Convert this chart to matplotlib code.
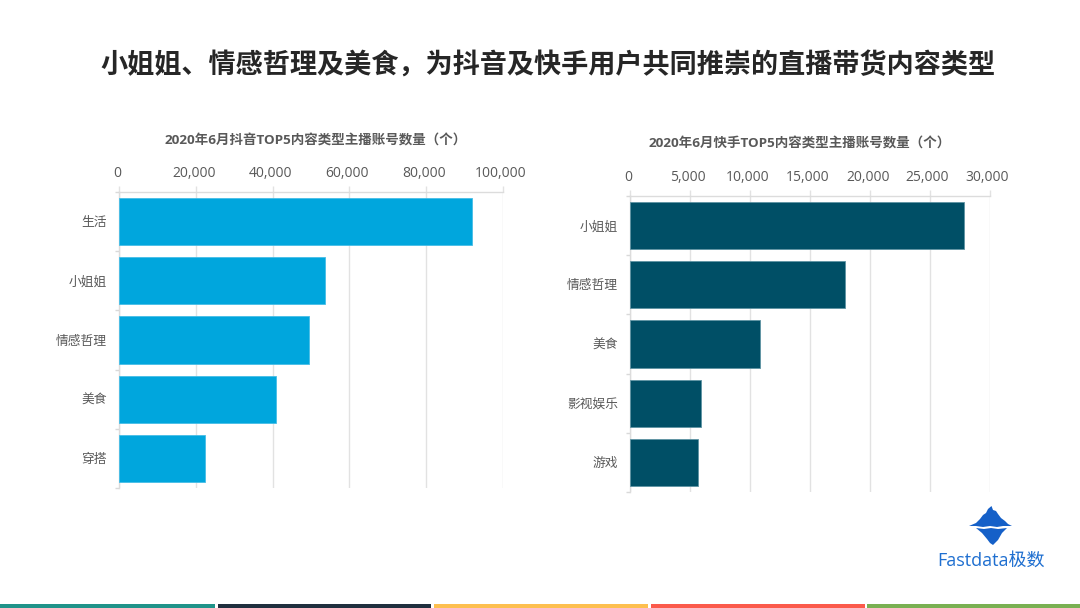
import matplotlib.pyplot as plt
from matplotlib.patches import Polygon, Rectangle
from matplotlib.transforms import ScaledTranslation

plt.rcParams['font.family'] = ['Open Sans', 'Noto Sans CJK SC', 'DejaVu Sans']

W, H = 1080, 608

# full-width comma and brackets written as escapes
title = "小姐姐、情感哲理及美食\uff0c为抖音及快手用户共同推崇的直播带货内容类型"

# left chart
douyin_title = "2020年6月抖音TOP5内容类型主播账号数量\uff08个\uff09"
douyin_cats = ["生活", "小姐姐", "情感哲理", "美食", "穿搭"]
douyin_vals = [92000, 53600, 49600, 41000, 22300]
douyin_ticks = [0, 20000, 40000, 60000, 80000, 100000]

# right chart
kuaishou_title = "2020年6月快手TOP5内容类型主播账号数量\uff08个\uff09"
kuaishou_cats = ["小姐姐", "情感哲理", "美食", "影视娱乐", "游戏"]
kuaishou_vals = [27900, 17900, 10850, 5900, 5650]
kuaishou_ticks = [0, 5000, 10000, 15000, 20000, 25000, 30000]

strip_colors = ["#1f9389", "#1f2f3e", "#fdbf4f", "#fb5a4b", "#79b052"]


def pixel_axes(fig, x0, y0, x1, y1):
    # y measured from the top of the image, like in the reference
    return fig.add_axes([x0 / W, 1 - y1 / H, (x1 - x0) / W, (y1 - y0) / H])


def bar_panel(ax, cats, vals, ticks, color, edge):
    pos = list(range(len(cats)))
    ax.barh(pos, vals, height=0.8, color=color, edgecolor=edge, linewidth=0.6, zorder=3)
    ax.set_xlim(0, ticks[-1])
    ax.set_ylim(len(cats) - 0.5, -0.5)
    ax.xaxis.tick_top()
    ax.set_xticks(ticks)
    ax.set_xticklabels([f"{t:,}" for t in ticks], fontsize=10, color="#595959")
    ax.tick_params(axis="x", length=4, width=1, color="#e2e2e2", pad=4)
    # the numbers sit a little left of their gridlines in the reference
    shift = ScaledTranslation(-2 / 100, 0, fig.dpi_scale_trans)
    for lbl in ax.get_xticklabels():
        lbl.set_transform(lbl.get_transform() + shift)
    # category ticks sit between the bars
    ax.set_yticks([p - 0.5 for p in pos] + [len(cats) - 0.5])
    ax.set_yticklabels([])
    ax.tick_params(axis="y", length=3, width=1, color="#d9d9d9")
    for p, c in zip(pos, cats):
        ax.annotate(c, (0, p), xytext=(-8.5, -0.8), textcoords="offset points", ha="right",
                    va="center", fontsize=9.2, color="#595959")
    ax.grid(axis="x", color="#e2e2e2", linewidth=1, zorder=0)
    for s in ["right", "bottom"]:
        ax.spines[s].set_visible(False)
    for s in ["top", "left"]:
        ax.spines[s].set_color("#dcdcdc")
        ax.spines[s].set_linewidth(1)


fig = plt.figure(figsize=(W / 100, H / 100), dpi=100, facecolor="white")

fig.text(547.5 / W, 1 - 66 / H, title, fontsize=19.55, fontweight="bold", color="#262626",
         ha="center", va="center")

ax1 = pixel_axes(fig, 119, 192, 503, 488)
bar_panel(ax1, douyin_cats, douyin_vals, douyin_ticks, "#00a6dd", "#46bde6")
fig.text(316 / W, 1 - 141 / H, douyin_title, fontsize=9.7, fontweight="bold", color="#595959",
         ha="center", va="center")

ax2 = pixel_axes(fig, 630, 196, 989.5, 492)
bar_panel(ax2, kuaishou_cats, kuaishou_vals, kuaishou_ticks, "#004f66", "#5e93a3")
fig.text(800 / W, 1 - 144 / H, kuaishou_title, fontsize=9.7, fontweight="bold", color="#595959",
         ha="center", va="center")

# overlay in image pixels for logo and bottom strip
bg = fig.add_axes([0, 0, 1, 1], zorder=5)
bg.set_xlim(0, W)
bg.set_ylim(H, 0)
bg.axis("off")

logo_blue = "#1560c8"
bg.add_patch(Polygon([(969, 526), (976, 523), (980, 519), (983, 515), (986, 513), (988, 509), (991.5, 506),
                      (993, 510), (996, 511), (998, 514), (1001, 518), (1005, 521), (1008, 524), (1012, 526),
                      (1003, 526), (997, 527), (990, 526), (983, 527), (976, 526)],
                     closed=True, fc=logo_blue, ec="none"))
bg.add_patch(Polygon([(976, 528), (984, 529), (991, 528), (998, 529), (1007, 528), (1002, 533),
                      (998, 540), (993, 545), (990, 543), (987, 539), (982, 533)],
                     closed=True, fc=logo_blue, ec="none"))
bg.text(937, 561, "Fastdata极数", fontsize=13, color="#1f6fd0", ha="left", va="center")

x_edges = [(0, 214.5), (217.5, 431), (433.5, 647.5), (650.5, 864.5), (867, 1080)]
for (x0, x1), c in zip(x_edges, strip_colors):
    bg.add_patch(Rectangle((x0, 603.5), x1 - x0, 4.5, fc=c, ec="none"))

fig.savefig("out.png", dpi=100)
